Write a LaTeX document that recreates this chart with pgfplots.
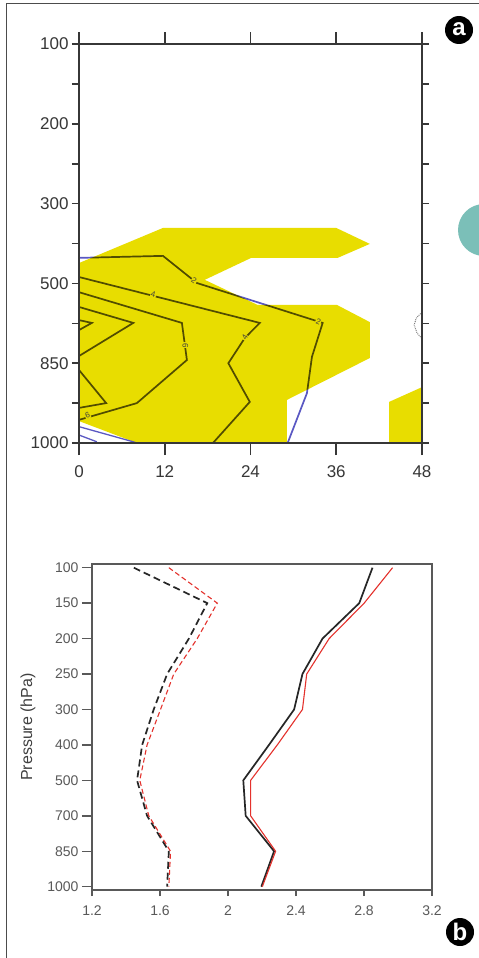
\documentclass[border=0pt]{standalone}
\usepackage{fontspec}
\setmainfont{Liberation Sans}
\usepackage{pgfplots}
\pgfplotsset{compat=1.18}

\definecolor{fillyel}{RGB}{232,221,0}
\definecolor{cline}{RGB}{90,88,195}
\definecolor{axgray}{RGB}{55,55,55}
\definecolor{lblgray}{RGB}{55,55,55}
\definecolor{redline}{RGB}{228,50,45}
\definecolor{tealdot}{RGB}{123,191,184}

\begin{document}
\begin{tikzpicture}[x=1pt,y=1pt]
\useasboundingbox (0,0) rectangle (479,-958);
\fill[white] (0,0) rectangle (479,-958);
\draw[black!70, line width=1pt] (6,-958) -- (6,-4) -- (479,-4);

% ---- panel a: contour section
\begin{axis}[
  at={(79pt,-44pt)}, anchor=north west,
  scale only axis, width=343pt, height=399pt,
  xmin=0, xmax=48, ymin=0, ymax=10, y dir=reverse,
  axis on top,
  xtick={0,12,24,36,48}, xticklabels={0,12,24,36,48},
  ytick={0,2,4,6,8,10}, yticklabels={100,200,300,500,850,1000},
  minor ytick={1,3,5,7,9},
  xtick pos=both, ytick pos=both,
  tick align=outside,
  major tick length=7pt, minor tick length=7pt,
  xtick style={/pgfplots/major tick length=12pt},
  tick style={axgray, line width=1.6pt},
  axis line style={axgray, line width=1.6pt},
  tick label style={font=\fontsize{17}{17}\selectfont, text=lblgray},
  xticklabel style={yshift=-12pt},
]
\addplot[fill=fillyel, draw=none] coordinates {
  (0,5.49)(11.75,4.61)(36.0,4.61)(40.7,5.01)(36.2,5.36)(24.1,5.36)
  (17.6,5.91)(25.0,6.54)(36.1,6.54)(40.7,6.97)(40.7,7.87)(29.1,8.92)
  (29.1,10)(8.1,10)(0,9.45)} -- cycle;
\addplot[fill=fillyel, draw=none] coordinates {
  (43.4,8.97)(48,8.6)(48,10)(43.4,10)} -- cycle;

\addplot[cline, line width=1.7pt, blend mode=multiply] coordinates {
  (0,5.36)(11.75,5.31)(16.5,5.99)(34.1,6.99)(32.6,7.84)(31.9,8.75)(29.2,10)};
\addplot[cline, line width=1.7pt, blend mode=multiply] coordinates {
  (0,5.84)(25.3,6.99)(23.2,7.37)(20.9,8.0)(23.9,8.97)(18.75,10)};
\addplot[cline, line width=1.7pt, blend mode=multiply] coordinates {
  (0,6.22)(14.4,6.99)(15.1,7.92)(8.1,9.0)(0,9.42)};
\addplot[cline, line width=1.7pt, blend mode=multiply] coordinates {
  (0,6.59)(7.6,6.99)(0,7.82)};
\addplot[cline, line width=1.7pt, blend mode=multiply] coordinates {
  (0,6.92)(1.8,6.99)(0,7.17)};
\addplot[cline, line width=1.7pt, blend mode=multiply] coordinates {
  (0,8.17)(3.8,9.0)(0,9.12)};
\addplot[cline, line width=1.3pt] coordinates {(0,9.59)(7.6,9.97)(8.1,10)};
\addplot[cline, line width=1.3pt] coordinates {(0,9.8)(2.5,9.97)};
\addplot[black!55, line width=0.9pt, densely dotted] coordinates {
  (48,6.72)(47.2,6.87)(46.9,7.04)(47.3,7.24)(47.9,7.37)};

\begin{scope}[every node/.style={font=\fontsize{8}{8}\selectfont, fill=fillyel,
    inner sep=0.6pt, text=black!75}]
\node[rotate=-35] at (axis cs:16.1,5.93) {2};
\node[rotate=-22] at (axis cs:33.5,6.95) {2};
\node[rotate=-14] at (axis cs:10.4,6.28) {4};
\node[rotate=60] at (axis cs:23.2,7.35) {4};
\node[rotate=-90] at (axis cs:14.9,7.55) {6};
\node[rotate=20] at (axis cs:1.2,9.3) {6};
\end{scope}
\end{axis}

% ---- panel b: vertical profiles
\begin{axis}[
  at={(92pt,-564pt)}, anchor=north west,
  scale only axis, width=340pt, height=326pt,
  xmin=1.2, xmax=3.2, ymin=-0.104, ymax=9.094, y dir=reverse,
  xtick={1.2,1.6,2,2.4,2.8,3.2}, xticklabels={1.2,1.6,2,2.4,2.8,3.2},
  ytick={0,1,2,3,4,5,6,7,8,9},
  yticklabels={100,150,200,250,300,400,500,700,850,1000},
  xtick pos=bottom, ytick pos=left, tick align=outside,
  major tick length=10pt,
  xtick style={/pgfplots/major tick length=6pt},
  tick style={black!65, line width=1.4pt},
  axis line style={black!65, line width=1.4pt},
  tick label style={font=\fontsize{14}{14}\selectfont, text=black!65},
  xticklabel style={yshift=-2pt},
  ylabel={Pressure (hPa)},
  ylabel style={font=\fontsize{16}{16}\selectfont, text=black!75,
    at={(axis description cs:-0.188,0.5)}, anchor=center},
]
\addplot[black!85, line width=1.7pt, dash pattern=on 7pt off 4pt] coordinates {
  (1.446,0)(1.878,1)(1.770,2)(1.642,3)(1.563,4)(1.495,5)(1.465,6)(1.524,7)(1.652,8)(1.642,9)};
\addplot[redline, line width=1.1pt, dash pattern=on 5pt off 3pt] coordinates {
  (1.652,0)(1.937,1)(1.819,2)(1.681,3)(1.603,4)(1.524,5)(1.481,6)(1.534,7)(1.662,8)(1.652,9)};
\addplot[black!85, line width=1.7pt] coordinates {
  (2.850,0)(2.772,1)(2.556,2)(2.438,3)(2.389,4)(2.241,5)(2.090,6)(2.104,7)(2.271,8)(2.196,9)};
\addplot[redline, line width=1.1pt] coordinates {
  (2.968,0)(2.801,1)(2.595,2)(2.463,3)(2.438,4)(2.290,5)(2.133,6)(2.133,7)(2.280,8)(2.202,9)};
\end{axis}

% panel markers
\begin{scope}
\clip (0,0) rectangle (479,-958);
\fill[tealdot] (484,-230) circle (26);
\end{scope}
\fill[black] (459,-30) circle (14);
\node[white, font=\bfseries\fontsize{24}{24}\selectfont] at (459,-29) {a};
\fill[black] (460,-932) circle (14);
\node[white, font=\bfseries\fontsize{24}{24}\selectfont] at (460,-932) {b};
\end{tikzpicture}
\end{document}
